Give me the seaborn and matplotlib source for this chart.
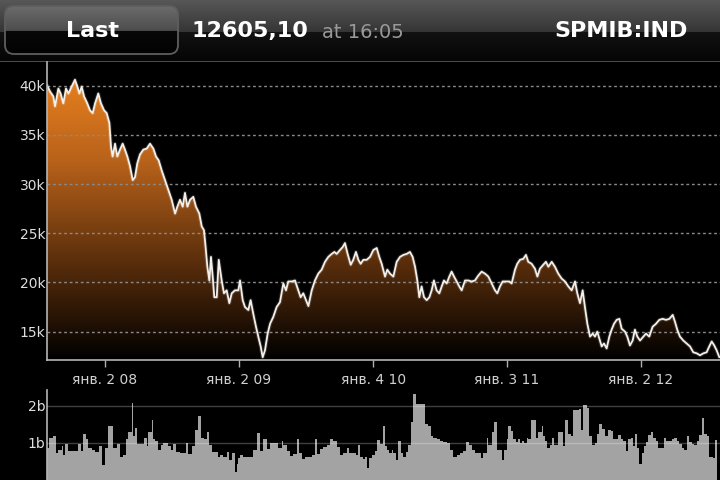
import numpy as np
import matplotlib
matplotlib.use("Agg")
import matplotlib.pyplot as plt
import seaborn as sns
from matplotlib.colors import LinearSegmentedColormap
from matplotlib.patches import FancyBboxPatch

# ---------------- data ----------------
price_t = [2007.570, 2007.595, 2007.620, 2007.632, 2007.657, 2007.674, 2007.694, 2007.714, 2007.732, 2007.756,
           2007.781, 2007.799, 2007.814, 2007.831, 2007.849, 2007.873, 2007.893, 2007.913, 2007.931, 2007.955,
           2007.975, 2007.998, 2008.018, 2008.038, 2008.050, 2008.062, 2008.080, 2008.097, 2008.117, 2008.137,
           2008.154, 2008.172, 2008.192, 2008.212, 2008.229, 2008.246, 2008.266, 2008.291, 2008.316, 2008.341,
           2008.366, 2008.386, 2008.406, 2008.428, 2008.453, 2008.478, 2008.503, 2008.528, 2008.545, 2008.565,
           2008.585, 2008.602, 2008.620, 2008.640, 2008.664, 2008.684, 2008.709, 2008.727, 2008.744, 2008.756,
           2008.769, 2008.784, 2008.796, 2008.809, 2008.821, 2008.839, 2008.854, 2008.876, 2008.893, 2008.913,
           2008.933, 2008.951, 2008.975, 2009.000, 2009.013, 2009.033, 2009.050, 2009.075, 2009.092, 2009.112,
           2009.132, 2009.149, 2009.167, 2009.182, 2009.199, 2009.219, 2009.237, 2009.261, 2009.286, 2009.311,
           2009.336, 2009.356, 2009.373, 2009.398, 2009.423, 2009.448, 2009.465, 2009.485, 2009.505, 2009.523,
           2009.548, 2009.572, 2009.597, 2009.622, 2009.647, 2009.672, 2009.697, 2009.717, 2009.734, 2009.759,
           2009.779, 2009.796, 2009.816, 2009.839, 2009.858, 2009.878, 2009.896, 2009.913, 2009.933, 2009.958,
           2009.983, 2010.008, 2010.033, 2010.052, 2010.070, 2010.095, 2010.112, 2010.132, 2010.157, 2010.182,
           2010.207, 2010.232, 2010.256, 2010.281, 2010.301, 2010.319, 2010.336, 2010.351, 2010.368, 2010.386,
           2010.406, 2010.426, 2010.443, 2010.460, 2010.480, 2010.500, 2010.518, 2010.535, 2010.555, 2010.575,
           2010.592, 2010.610, 2010.630, 2010.649, 2010.667, 2010.692, 2010.717, 2010.742, 2010.766, 2010.791,
           2010.816, 2010.841, 2010.866, 2010.891, 2010.916, 2010.933, 2010.953, 2010.973, 2010.998, 2011.023,
           2011.040, 2011.065, 2011.082, 2011.102, 2011.127, 2011.147, 2011.164, 2011.189, 2011.214, 2011.232,
           2011.251, 2011.276, 2011.296, 2011.314, 2011.339, 2011.363, 2011.388, 2011.413, 2011.438, 2011.463,
           2011.488, 2011.513, 2011.530, 2011.550, 2011.570, 2011.587, 2011.605, 2011.625, 2011.645, 2011.662,
           2011.679, 2011.699, 2011.712, 2011.729, 2011.749, 2011.769, 2011.786, 2011.804, 2011.824, 2011.844,
           2011.861, 2011.886, 2011.903, 2011.923, 2011.943, 2011.960, 2011.978, 2011.998, 2012.023, 2012.043,
           2012.067, 2012.092, 2012.117, 2012.142, 2012.167, 2012.192, 2012.217, 2012.242, 2012.259, 2012.276,
           2012.296, 2012.321, 2012.346, 2012.371, 2012.396, 2012.421, 2012.446, 2012.471, 2012.495, 2012.515,
           2012.533, 2012.552, 2012.570, 2012.590]

price_k = [40.1, 39.4, 38.9, 37.9, 39.7, 39.2, 38.2, 39.7, 39.2, 39.9,
           40.6, 39.9, 39.2, 39.9, 38.9, 38.2, 37.5, 37.2, 38.2, 39.2,
           38.2, 37.5, 37.2, 36.2, 33.8, 32.8, 34.1, 32.8, 33.5, 34.1,
           33.5, 32.8, 31.8, 30.4, 30.7, 32.1, 33.0, 33.5, 33.6, 34.1,
           33.6, 32.8, 32.4, 31.4, 30.4, 29.4, 28.4, 27.0, 27.7, 28.4,
           27.7, 29.1, 27.7, 28.4, 28.7, 27.7, 27.0, 25.7, 25.3, 23.6,
           21.6, 20.2, 22.6, 20.6, 18.5, 18.5, 22.3, 20.2, 18.9, 19.2,
           17.9, 18.9, 19.2, 19.2, 20.2, 18.2, 17.5, 17.2, 18.2, 16.8,
           15.5, 14.5, 13.5, 12.4, 13.1, 14.8, 15.8, 16.5, 17.5, 18.0,
           19.9, 19.2, 20.1, 20.1, 20.2, 19.2, 18.5, 18.9, 18.2, 17.6,
           19.2, 20.2, 20.9, 21.3, 22.1, 22.6, 22.9, 23.1, 22.9, 23.3,
           23.6, 24.0, 22.9, 21.8, 22.3, 23.1, 22.3, 21.9, 22.3, 22.3,
           22.6, 23.3, 23.5, 22.6, 21.9, 20.6, 21.3, 20.9, 20.6, 22.1,
           22.6, 22.8, 22.9, 23.1, 22.6, 21.6, 20.2, 18.5, 19.6, 18.5,
           18.2, 18.5, 19.2, 20.2, 19.2, 18.9, 19.6, 20.2, 19.9, 20.6,
           21.1, 20.6, 20.1, 19.6, 19.2, 20.2, 20.2, 20.1, 20.2, 20.7,
           21.1, 20.9, 20.6, 19.9, 19.2, 18.9, 19.6, 20.1, 20.1, 20.1,
           19.9, 21.3, 21.9, 22.3, 22.4, 22.8, 22.1, 21.9, 21.4, 20.6,
           21.4, 21.8, 22.1, 21.6, 22.1, 21.6, 20.9, 20.4, 20.1, 19.6,
           19.2, 20.1, 18.9, 17.9, 19.2, 17.5, 15.8, 14.5, 14.8, 14.5,
           15.0, 14.1, 13.5, 13.8, 13.3, 14.5, 15.2, 15.8, 16.2, 16.3,
           15.3, 15.0, 14.5, 13.6, 14.1, 15.2, 14.5, 14.1, 14.5, 14.8,
           14.5, 15.5, 15.8, 16.2, 16.3, 16.2, 16.3, 16.7, 16.0, 15.2,
           14.5, 14.1, 13.8, 13.5, 12.9, 12.8, 12.6, 12.8, 12.9, 13.5,
           14.0, 13.6, 13.1, 12.4]

vol_t = [2007.570, 2007.590, 2007.620, 2007.640, 2007.657, 2007.682, 2007.694, 2007.707, 2007.732, 2007.806,
         2007.826, 2007.844, 2007.863, 2007.881, 2007.906, 2007.931, 2007.963, 2007.980, 2008.005, 2008.030,
         2008.062, 2008.092, 2008.117, 2008.137, 2008.162, 2008.179, 2008.204, 2008.217, 2008.229, 2008.247,
         2008.296, 2008.316, 2008.329, 2008.353, 2008.366, 2008.378, 2008.403, 2008.421, 2008.441, 2008.478,
         2008.495, 2008.515, 2008.533, 2008.565, 2008.610, 2008.627, 2008.652, 2008.677, 2008.702, 2008.719,
         2008.744, 2008.764, 2008.784, 2008.801, 2008.851, 2008.863, 2008.888, 2008.913, 2008.933, 2008.950,
         2008.975, 2008.988, 2009.000, 2009.012, 2009.037, 2009.112, 2009.137, 2009.162, 2009.187, 2009.211,
         2009.236, 2009.299, 2009.324, 2009.336, 2009.361, 2009.386, 2009.411, 2009.435, 2009.455, 2009.473,
         2009.498, 2009.522, 2009.547, 2009.572, 2009.585, 2009.610, 2009.634, 2009.659, 2009.684, 2009.709,
         2009.734, 2009.759, 2009.784, 2009.809, 2009.829, 2009.878, 2009.896,
         2009.908, 2009.928, 2009.945, 2009.963, 2009.978, 2009.995, 2010.020, 2010.038, 2010.057, 2010.077,
         2010.095, 2010.107, 2010.127, 2010.145, 2010.157, 2010.177, 2010.195, 2010.212, 2010.227, 2010.252,
         2010.269, 2010.287, 2010.302, 2010.326, 2010.396, 2010.418, 2010.436, 2010.456, 2010.480, 2010.505,
         2010.530, 2010.555, 2010.580, 2010.605, 2010.630, 2010.654, 2010.679, 2010.699, 2010.724, 2010.741,
         2010.766, 2010.808, 2010.828, 2010.853, 2010.866, 2010.891, 2010.908, 2010.928, 2010.966, 2010.983,
         2011.003, 2011.015, 2011.033, 2011.053, 2011.072, 2011.090, 2011.102, 2011.115, 2011.132, 2011.152,
         2011.164, 2011.182, 2011.222, 2011.239, 2011.264, 2011.276, 2011.289, 2011.306, 2011.326, 2011.338,
         2011.356, 2011.371, 2011.388, 2011.426, 2011.438, 2011.463, 2011.480, 2011.495, 2011.545, 2011.555,
         2011.575, 2011.605, 2011.620, 2011.637, 2011.662, 2011.680, 2011.694, 2011.712, 2011.736, 2011.761,
         2011.779, 2011.799, 2011.818, 2011.836, 2011.853, 2011.873, 2011.893, 2011.911, 2011.928, 2011.943,
         2011.961, 2011.973, 2011.993, 2012.010, 2012.028, 2012.043, 2012.060, 2012.077, 2012.097, 2012.117,
         2012.134, 2012.177, 2012.192, 2012.234, 2012.251, 2012.271, 2012.291, 2012.309, 2012.326, 2012.346,
         2012.366, 2012.383, 2012.401, 2012.421, 2012.441, 2012.458, 2012.475, 2012.495, 2012.515, 2012.540,
         2012.557]
vol_end = 2012.575

vol_b = [0.86, 1.14, 1.19, 0.72, 0.81, 0.91, 0.68, 0.98, 0.77, 0.98,
         0.77, 1.23, 1.09, 0.86, 0.81, 0.74, 0.91, 0.40, 0.86, 1.44,
         0.86, 0.98, 0.61, 0.68, 1.09, 1.28, 2.06, 1.19, 1.39, 0.98,
         1.14, 0.91, 1.28, 1.60, 1.09, 1.05, 0.81, 0.93, 1.00, 0.91,
         0.81, 0.98, 0.74, 0.72, 1.00, 0.69, 0.91, 1.35, 1.72, 1.14,
         1.09, 1.30, 0.95, 0.75, 0.63, 0.68, 0.63, 0.76, 0.54, 0.72,
         0.21, 0.44, 0.58, 0.68, 0.61, 0.81, 1.26, 0.77, 1.11, 0.83,
         1.00, 0.86, 1.05, 0.93, 0.77, 0.65, 0.70, 1.11, 0.72, 0.56,
         0.61, 0.63, 0.68, 1.09, 0.70, 0.83, 0.89, 0.93, 1.09, 1.05,
         0.89, 0.68, 0.72, 0.86, 0.72, 0.68, 0.93,
         0.61, 0.56, 0.63, 0.33, 0.58, 0.68, 0.77, 1.07, 0.98, 1.44,
         0.91, 0.81, 0.72, 0.81, 0.72, 0.54, 1.05, 0.72, 0.61, 0.74,
         0.95, 1.56, 2.31, 2.04, 1.51, 1.46, 1.19, 1.14, 1.09, 1.05,
         1.02, 1.00, 0.81, 0.63, 0.68, 0.72, 0.77, 1.02, 0.93, 0.81,
         0.72, 0.58, 0.72, 1.14, 0.95, 1.28, 1.56, 0.81, 0.54, 0.80,
         1.09, 1.44, 1.32, 1.11, 1.02, 1.11, 1.00, 1.05, 1.00, 1.14,
         1.11, 1.60, 1.14, 1.28, 1.44, 1.19, 1.05, 0.86, 0.93, 1.14,
         0.95, 0.93, 1.30, 0.91, 1.60, 1.23, 1.17, 1.88, 1.91, 1.35,
         2.02, 1.94, 1.19, 0.95, 1.00, 1.23, 1.51, 1.37, 1.19, 1.35,
         1.32, 1.09, 1.11, 1.20, 1.11, 1.05, 0.77, 1.09, 1.14, 0.91,
         1.25, 0.86, 0.44, 0.72, 0.91, 1.02, 1.20, 1.28, 1.14, 1.05,
         0.86, 1.14, 1.05, 1.09, 1.14, 1.05, 0.98, 0.86, 0.81, 1.19,
         1.02, 0.98, 0.95, 1.05, 1.20, 1.68, 1.23, 1.19, 0.63, 0.60,
         1.07]

tick_t = [2008.003, 2009.003, 2010.008, 2011.005, 2012.003]
tick_labels = ["янв. 2 08", "янв. 2 09", "янв. 4 10", "янв. 3 11", "янв. 2 12"]
price_ticks = [15, 20, 25, 30, 35, 40]
price_tick_labels = ["15k", "20k", "25k", "30k", "35k", "40k"]
vol_ticks = [1, 2]
vol_tick_labels = ["1b", "2b"]

header_symbol = "SPMIB:IND"
header_last = "12605,10"
header_time = "at 16:05"
button_label = "Last"

assert len(price_t) == len(price_k), (len(price_t), len(price_k))
assert len(vol_t) == len(vol_b), (len(vol_t), len(vol_b))

# ---------------- style ----------------
sns.set_theme(style="dark")
plt.rcParams["font.family"] = ["DejaVu Sans"]
plt.rcParams["axes.facecolor"] = "black"
plt.rcParams["figure.facecolor"] = "black"

W, H = 720, 480
fig = plt.figure(figsize=(7.2, 4.8), dpi=100, facecolor="black")

# ---------------- header ----------------
hax = fig.add_axes([0, 1 - 62 / H, 1, 62 / H])
hax.set_xlim(0, W)
hax.set_ylim(62, 0)
hax.axis("off")
rows = np.concatenate([np.linspace(0.34, 0.21, 32), np.linspace(0.07, 0.02, 29), [0.30]])
hdr = np.repeat(rows[:, None, None], 3, axis=2)
hax.imshow(hdr, extent=(0, W, 62, 0), aspect="auto", interpolation="bilinear", zorder=0)

btn = FancyBboxPatch((5, 6), 173, 48, boxstyle="round,pad=0,rounding_size=9",
                     facecolor="none", edgecolor="#5e5e5e", lw=1.3, zorder=3)
hax.add_patch(btn)
brows = np.concatenate([np.linspace(0.42, 0.30, 26), np.linspace(0.03, 0.01, 24)])
bimg = np.repeat(brows[:, None, None], 3, axis=2)
bim = hax.imshow(bimg, extent=(5, 178, 54, 6), aspect="auto", interpolation="bilinear", zorder=2)
bim.set_clip_path(btn)
hax.set_xlim(0, W)
hax.set_ylim(62, 0)

hax.text(92, 31, button_label, ha="center", va="center", fontsize=16, weight="bold", color="white", zorder=4)
hax.text(192, 31, header_last, ha="left", va="center", fontsize=16, weight="bold", color="white", zorder=4)
hax.text(322, 32, header_time, ha="left", va="center", fontsize=14, color="#9a9a9a", zorder=4)
hax.text(688, 31, header_symbol, ha="right", va="center", fontsize=16, weight="bold", color="white", zorder=4)

# ---------------- price panel ----------------
x0, x1 = 2007.570, 2012.595
y0, y1 = 12.12, 42.4
ax = fig.add_axes([46.7 / W, 1 - 360 / H, 1 - 46.7 / W, 298 / H])
ax.set_facecolor("black")

poly = ax.fill_between(price_t, price_k, y0 - 1, color="none", lw=0, zorder=1)
cmap = LinearSegmentedColormap.from_list(
    "orange", [(0.0, "#000000"), (0.35, "#5c2f0c"), (0.7, "#b8621a"), (1.0, "#e8801f")])
grad = np.linspace(0, 1, 256).reshape(-1, 1)
im = ax.imshow(grad, extent=(x0, x1, y0, 41.0), origin="lower", aspect="auto",
               cmap=cmap, zorder=1)
im.set_clip_path(poly.get_paths()[0], transform=ax.transData)

for v in price_ticks:
    ax.axhline(v, color="#8a8a8a", lw=1.0, ls=(0, (2, 2)), zorder=2)

sns.lineplot(x=price_t, y=price_k, ax=ax, color="white", lw=2.8, alpha=0.15, zorder=4)
sns.lineplot(x=price_t, y=price_k, ax=ax, color="#f4efe9", lw=1.3, zorder=5)

ax.set_xlim(x0, x1)
ax.set_ylim(y0, y1)
ax.set_yticks(price_ticks)
ax.set_yticklabels(price_tick_labels)
ax.set_xticks(tick_t)
ax.set_xticklabels(tick_labels)
ax.set_xlabel("")
ax.set_ylabel("")
ax.grid(False)
ax.tick_params(axis="y", length=0, pad=1, labelcolor="#dedede", labelsize=10)
ax.tick_params(axis="x", length=5, width=1, color="#b0b0b0", direction="out", pad=4,
               labelcolor="#d0d0d0", labelsize=10, bottom=True)
for s in ("top", "right"):
    ax.spines[s].set_visible(False)
for s in ("left", "bottom"):
    ax.spines[s].set_visible(True)
    ax.spines[s].set_color("#b5b5b5")
    ax.spines[s].set_linewidth(1.2)
    ax.spines[s].set_zorder(6)

# ---------------- volume panel ----------------
vax = fig.add_axes([46.7 / W, 0, 1 - 46.7 / W, 90 / H])
vax.set_facecolor("black")
edges = list(vol_t) + [vol_end]
sns.histplot(x=vol_t, weights=vol_b, bins=edges, ax=vax, color="#a3a3a3",
             alpha=1.0, edgecolor="none", linewidth=0, zorder=2)
for v in vol_ticks:
    vax.axhline(v, color="white", alpha=0.25, lw=1.0, zorder=4)
vax.set_xlim(x0, x1)
vax.set_ylim(0, 2.42)
vax.set_yticks(vol_ticks)
vax.set_yticklabels(vol_tick_labels)
vax.set_xticks([])
vax.set_xlabel("")
vax.set_ylabel("")
vax.grid(False)
vax.tick_params(axis="y", length=0, pad=1, labelcolor="#dedede", labelsize=10)
for s in ("top", "right", "bottom"):
    vax.spines[s].set_visible(False)
vax.spines["left"].set_visible(True)
vax.spines["left"].set_color("#b5b5b5")
vax.spines["left"].set_linewidth(1.2)

fig.savefig("out.png", dpi=100, facecolor="black")
